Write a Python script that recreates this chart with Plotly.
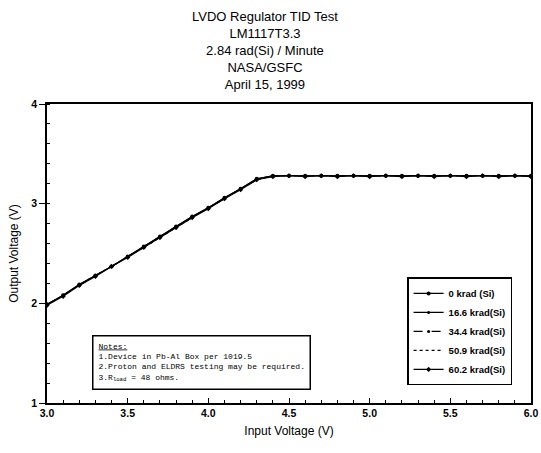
import plotly.graph_objects as go

vin = [3.0, 3.1, 3.2, 3.3, 3.4, 3.5, 3.6, 3.7, 3.8, 3.9, 4.0, 4.1, 4.2, 4.3, 4.4,
       4.5, 4.6, 4.7, 4.8, 4.9, 5.0, 5.1, 5.2, 5.3, 5.4, 5.5, 5.6, 5.7, 5.8, 5.9, 6.0]

v_0 = [1.99, 2.08, 2.19, 2.28, 2.37, 2.47, 2.57, 2.67, 2.77, 2.87, 2.96, 3.06, 3.15, 3.25, 3.28,
       3.28, 3.28, 3.28, 3.28, 3.28, 3.28, 3.28, 3.28, 3.28, 3.28, 3.28, 3.28, 3.28, 3.28, 3.28, 3.28]
v_16 = [1.99, 2.08, 2.19, 2.28, 2.37, 2.47, 2.57, 2.67, 2.77, 2.87, 2.96, 3.06, 3.15, 3.25, 3.28,
        3.28, 3.28, 3.28, 3.28, 3.28, 3.28, 3.28, 3.28, 3.28, 3.28, 3.28, 3.28, 3.28, 3.28, 3.28, 3.28]
v_34 = [1.99, 2.08, 2.18, 2.28, 2.37, 2.47, 2.57, 2.67, 2.77, 2.86, 2.96, 3.05, 3.15, 3.24, 3.28,
        3.28, 3.28, 3.28, 3.28, 3.28, 3.28, 3.28, 3.28, 3.28, 3.28, 3.28, 3.28, 3.28, 3.28, 3.28, 3.28]
v_50 = [1.98, 2.08, 2.18, 2.28, 2.37, 2.47, 2.56, 2.66, 2.76, 2.86, 2.96, 3.05, 3.15, 3.24, 3.28,
        3.28, 3.28, 3.28, 3.28, 3.28, 3.28, 3.28, 3.28, 3.28, 3.28, 3.28, 3.28, 3.28, 3.28, 3.28, 3.28]
v_60 = [1.98, 2.07, 2.18, 2.27, 2.37, 2.46, 2.56, 2.66, 2.76, 2.86, 2.95, 3.05, 3.14, 3.24, 3.27,
        3.28, 3.27, 3.28, 3.27, 3.28, 3.27, 3.28, 3.27, 3.28, 3.27, 3.28, 3.27, 3.28, 3.27, 3.28, 3.27]

series = [
    ("0 krad (Si)", v_0, "solid", "circle", 4),
    ("16.6 krad(Si)", v_16, "solid", "circle", 3),
    ("34.4 krad(Si)", v_34, "dash", "circle", 3),
    ("50.9 krad(Si)", v_50, "dot", "circle", 0),
    ("60.2 krad(Si)", v_60, "solid", "diamond", 4),
]

title_lines = ["LVDO Regulator TID Test", "LM1117T3.3", "2.84 rad(Si) / Minute",
               "NASA/GSFC", "April 15, 1999"]

notes_lines = ["<u>Notes:</u>",
               "1.Device in Pb-Al Box per 1019.5",
               "2.Proton and ELDRS testing may be required.",
               "3.R<sub>load</sub> = 48 ohms."]

fig = go.Figure()
for name, ys, dash, sym, msize in series:
    fig.add_trace(go.Scatter(
        x=vin, y=ys, name=name, mode="lines+markers" if msize else "lines",
        line=dict(color="black", width=1.2, dash=dash),
        marker=dict(symbol=sym, size=msize, color="black"),
    ))

fig.update_layout(
    width=541, height=453,
    margin=dict(l=47, r=10, t=104, b=50, autoexpand=False),
    paper_bgcolor="white", plot_bgcolor="white",
    font=dict(family="Liberation Sans, Arial", color="black", size=12),
    showlegend=True,
    legend=dict(x=0.744, y=0.42, xanchor="left", yanchor="top",
                bgcolor="white", bordercolor="black", borderwidth=1.5,
                font=dict(size=9.5, weight="bold"), itemwidth=30,
                tracegroupgap=0),
    xaxis=dict(range=[3.0, 6.0], dtick=0.5, tickformat=".1f", automargin=False,
               showgrid=False, zeroline=False, showline=True, linecolor="black",
               linewidth=1.5, mirror=True, ticks="inside", ticklen=5,
               tickcolor="black",
               minor=dict(dtick=0.1, ticks="inside", ticklen=3, tickcolor="black"),
               tickfont=dict(size=10.5, weight="bold"),
               title=dict(text="Input Voltage (V)", font=dict(size=12), standoff=8)),
    yaxis=dict(range=[1, 4], dtick=1, showgrid=False, zeroline=False, automargin=False,
               showline=True, linecolor="black", linewidth=1.5, mirror=True,
               ticks="outside", ticklen=6, tickcolor="black",
               minor=dict(dtick=0.2, ticks="inside", ticklen=3, tickcolor="black"),
               tickfont=dict(size=10.5, weight="bold"),
               title=dict(text="Output Voltage (V)", font=dict(size=12), standoff=10)),
)

fig.add_annotation(
    xref="paper", yref="paper", x=0.45, y=1.324, xanchor="center", yanchor="top",
    text="<br>".join(title_lines), align="center", showarrow=False,
    font=dict(size=13, color="black"),
)

fig.add_annotation(
    xref="paper", yref="paper", x=0.093, y=0.227, xanchor="left", yanchor="top",
    text="<br>".join(notes_lines), align="left", showarrow=False,
    font=dict(family="Liberation Mono, Courier New", size=8, color="black"),
    bordercolor="black", borderwidth=1.5, bgcolor="white", borderpad=5,
)

fig.write_html(
    "out.html",
    config={"displayModeBar": False},
    post_script="document.body.style.margin='0';document.body.style.overflow='hidden';",
)
